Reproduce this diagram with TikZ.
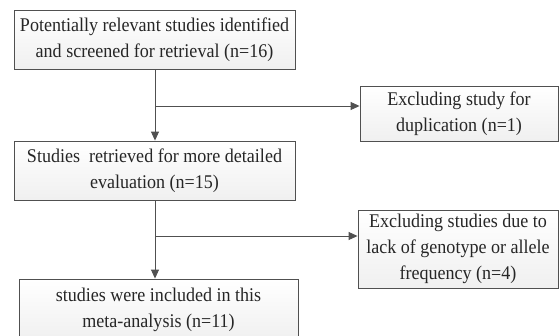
\documentclass[tikz,border=0pt]{standalone}
\usepackage{fontspec}
\setmainfont[FakeStretch=0.93]{Liberation Serif}
\usepackage{tikz}
\usetikzlibrary{positioning, shapes, arrows, arrows.meta, shadows}

\definecolor{linegray}{RGB}{80,80,80}
\tikzset{
  flowbox/.style={draw=linegray, line width=0.9pt, align=center,
    top color=white, bottom color=gray!12,
    drop shadow={shadow xshift=1.2pt, shadow yshift=-1.2pt, fill=gray!35, opacity=0.6},
    font=\fontsize{19.4}{26}\selectfont, inner sep=0pt, text=black!85},
  flowline/.style={draw=linegray, line width=0.9pt, -{Triangle[length=9pt, width=8pt]}}
}

\begin{document}
\begin{tikzpicture}[x=1pt, y=-1pt]
\useasboundingbox (0,0) rectangle (560,335);
\node[flowbox, minimum width=281pt, minimum height=59pt] (ident) at (154.5,39.5)
  {Potentially relevant studies identified\\and screened for retrieval (n=16)};
\node[flowbox, minimum width=281pt, minimum height=59pt] (retr) at (154.5,170.5)
  {Studies\ \ retrieved for more detailed\\evaluation (n=15)};
\node[flowbox, minimum width=279pt, minimum height=62pt] (incl) at (158.5,310)
  {studies were included in this\\meta-analysis (n=11)};
\node[flowbox, minimum width=198pt, minimum height=55pt] (dup) at (459,113.5)
  {Excluding study for\\duplication (n=1)};
\node[flowbox, minimum width=200pt, minimum height=78pt] (lack) at (458,249)
  {Excluding studies due to\\lack of genotype or allele\\frequency (n=4)};

\coordinate (b1) at (155,106);
\coordinate (b2) at (155,236);

\draw[flowline] (ident.south -| b1) -- (retr.north -| b1);
\draw[flowline] (b1) -- (dup.west |- b1);

\draw[flowline] (retr.south -| b2) -- (incl.north -| b2);
\draw[flowline] (b2) -- (lack.west |- b2);
\end{tikzpicture}
\end{document}
